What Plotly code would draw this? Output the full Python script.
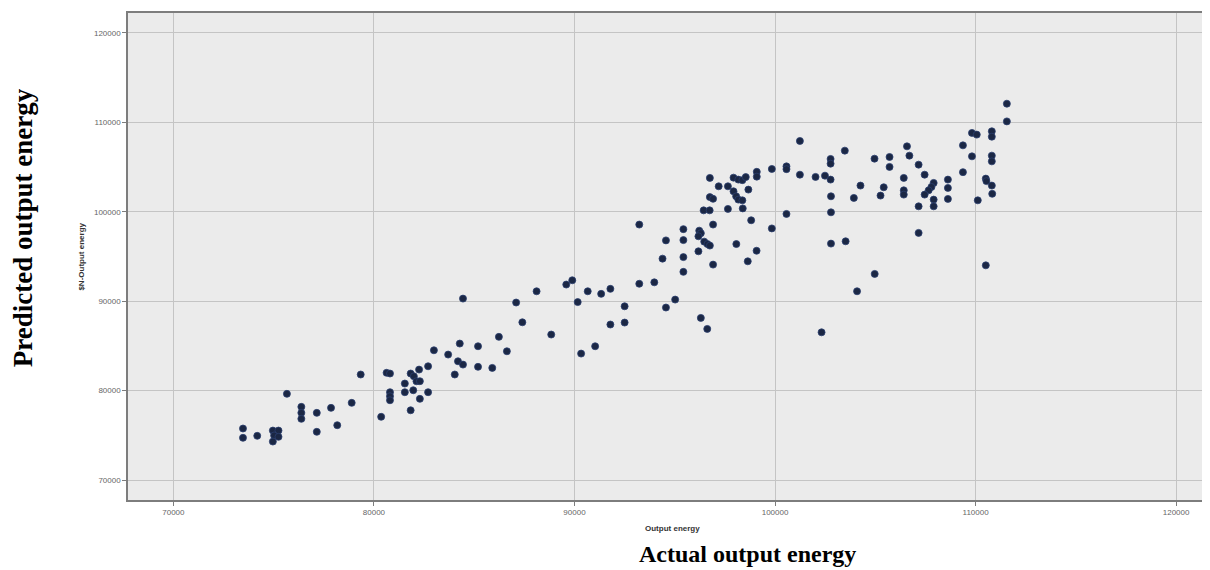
import plotly.graph_objects as go

# Actual output energy (x) and predicted output energy (y)
actual = [
    73470, 73470, 74180, 74960, 75240, 75020, 75240, 74960, 75660, 76380,
    76380, 76380, 77150, 77150, 77860, 78170, 78890, 79340, 80360, 80630,
    80800, 80800, 80800, 80800, 81540, 81540, 81830, 81990, 82120, 82290,
    81960, 81830, 82250, 82290, 82700, 82700, 82990, 83700, 84030, 84190,
    84280, 84440, 85190, 85190, 85900, 86230, 86630,
    84440, 87090, 88110, 87400, 88840, 89590, 89890, 90160, 90660, 91330,
    91790, 92500, 92500, 91790, 91030, 90330, 93230, 93980, 94560, 95020,
    96300, 96620, 93230, 94390, 94560, 95430, 95430, 95430, 95430, 96180,
    96220, 96300, 96180, 96470, 96630, 96750, 96910, 98070, 98640, 99080,
    96750, 97190, 97650, 97930, 98170, 98370, 98540, 99090, 99090, 99840,
    100570, 100570, 101240, 101240, 96750, 96910, 97930, 98060, 98170, 98370,
    98670, 96440, 96740, 97650, 98390, 96910, 98810, 99840, 100570,
    103480, 102020, 102490, 102770, 102770, 102770, 102790, 102790, 102790, 103520,
    104260, 103930, 104960, 105710, 105710, 105420, 105260, 104970, 104090, 102320,
    106580, 106700, 107160, 107460, 107910, 107800, 107660, 107460, 106420, 106420,
    106420, 107910, 107910, 107160, 107160, 108620, 108620, 108620, 109370, 109820,
    110060, 109820, 109370, 110110, 110510, 110540, 110810, 110810, 110810, 110810,
    110810, 110830, 110510, 111560, 111560,
]
predicted = [
    75760, 74720, 74940, 75530, 75530, 74980, 74830, 74300, 79640, 78180,
    77510, 76840, 77510, 75390, 78070, 76130, 78630, 81800, 77070, 81990,
    81910, 79820, 79370, 78920, 80790, 79820, 81910, 81600, 81050, 81050,
    80040, 77800, 82350, 79080, 82720, 79820, 84510, 84030, 81800, 83280,
    85260, 82910, 84960, 82660, 82540, 86010, 84400,
    90290, 89850, 91110, 87640, 86270, 91860, 92340, 89900, 91110, 90820,
    91380, 89430, 87610, 87390, 84960, 84140, 91950, 92110, 89290, 90180,
    88130, 86900, 98570, 94760, 96800, 98060, 96830, 94930, 93280, 95580,
    97890, 97610, 97260, 96660, 96390, 96220, 94090, 96390, 94460, 95640,
    103790, 102850, 102850, 103820, 103600, 103540, 103880, 104470, 103930, 104790,
    105080, 104770, 107920, 104150, 101640, 101450, 102290, 101730, 101360, 101280,
    102480, 100160, 100160, 100320, 100380, 98570, 99050, 98140, 99760,
    106840, 103900, 104040, 103600, 105910, 105380, 101730, 99940, 96440, 96700,
    102930, 101550, 105940, 106130, 105020, 102740, 101810, 93050, 91110, 86520,
    107320, 106280, 105270, 104150, 103230, 102780, 102400, 101920, 103790, 102400,
    101920, 101360, 100610, 100610, 97640, 103600, 102670, 101440, 107430, 108820,
    108630, 106200, 104430, 101280, 103710, 103430, 109000, 108400, 106280, 105640,
    102930, 102010, 94010, 112090, 110110,
]

tick_vals = [70000, 80000, 90000, 100000, 110000, 120000]
tick_text = ["70000", "80000", "90000", "100000", "110000", "120000"]

x_title_small = "Output energy"
y_title_small = "$N-Output energy"
x_title_big = "Actual output energy"
y_title_big = "Predicted output energy"

# plot area in screenshot pixels (page has an 8px body margin)
PL, PR, PT, PB = 128, 1207, 13, 500
PW, PH = PR - PL, PB - PT

def px(X):
    return (X - PL) / PW

def py(Y):
    return (PB - Y) / PH

fig = go.Figure()
fig.add_trace(go.Scatter(
    x=actual, y=predicted, mode="markers",
    marker=dict(size=7, color="#1b2744", line=dict(width=0.8, color="#2b3f6e")),
    showlegend=False, hoverinfo="x+y",
))

axis_common = dict(
    tickvals=tick_vals, ticktext=tick_text,
    showgrid=True, gridcolor="#c4c4c4", gridwidth=1,
    zeroline=False,
    showline=True, linecolor="#7d7d7d", linewidth=1.5, mirror=True,
    ticks="outside", ticklen=4, tickcolor="#7d7d7d", tickwidth=1,
    tickfont=dict(family="Liberation Sans, Arial, sans-serif", size=8, color="#666666"),
)

fig.update_xaxes(range=[67736, 121440], **axis_common)
fig.update_yaxes(range=[67764, 122233], **axis_common)

fig.update_layout(
    width=1202, height=562,
    margin=dict(l=PL - 8, r=1202 - (PR - 8), t=PT - 8, b=562 - (PB - 8)),
    paper_bgcolor="white",
    plot_bgcolor="#ebebeb",
    annotations=[
        dict(text="<b>" + x_title_small + "</b>", xref="paper", yref="paper",
             x=px(674), y=py(528), xanchor="center", yanchor="middle",
             showarrow=False, font=dict(family="Liberation Sans, Arial, sans-serif", size=8, color="#333333")),
        dict(text="<b>" + y_title_small + "</b>", xref="paper", yref="paper",
             x=px(81), y=0.5, xanchor="center", yanchor="middle", textangle=-90,
             showarrow=False, font=dict(family="Liberation Sans, Arial, sans-serif", size=8, color="#333333")),
        dict(text="<b>" + x_title_big + "</b>", xref="paper", yref="paper",
             x=px(749), y=py(554), xanchor="center", yanchor="middle",
             showarrow=False, font=dict(family="Liberation Serif, Times New Roman, serif", size=24, color="black")),
        dict(text="<b>" + y_title_big + "</b>", xref="paper", yref="paper",
             x=px(23), y=py(228), xanchor="center", yanchor="middle", textangle=-90,
             showarrow=False, font=dict(family="Liberation Serif, Times New Roman, serif", size=27, color="black")),
    ],
)

fig.write_html("out.html")
